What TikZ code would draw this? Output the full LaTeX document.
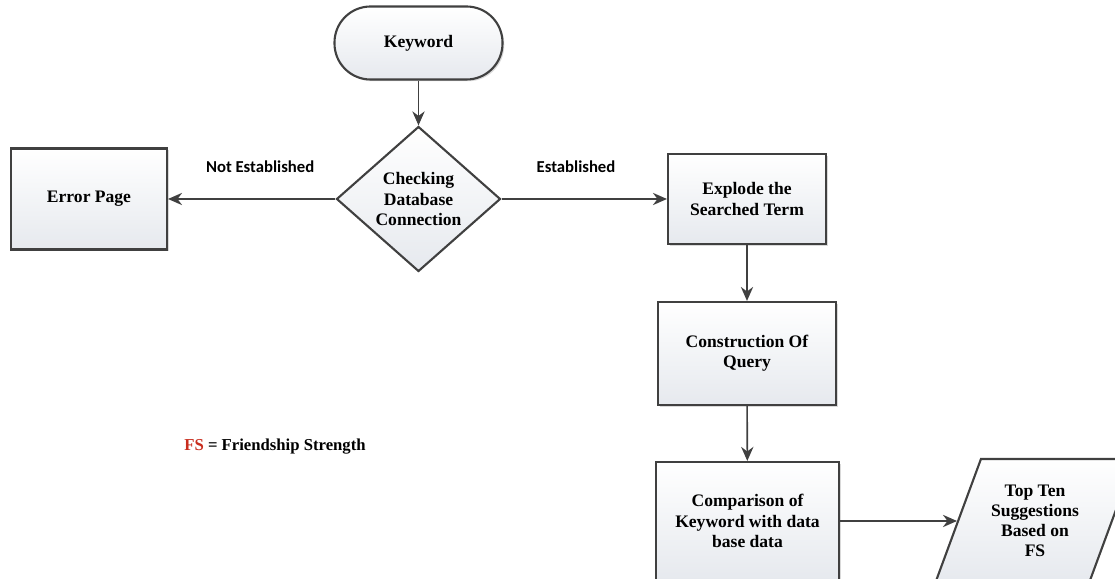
\documentclass[tikz,border=0pt]{standalone}
\usepackage{fontspec}
\setmainfont{Liberation Serif}
\newfontfamily\edgefont{Carlito}
\usetikzlibrary{arrows.meta,shapes.geometric,shadows}
\definecolor{linegray}{RGB}{64,64,64}
\definecolor{boxshade}{RGB}{230,233,238}
\definecolor{fsred}{RGB}{200,45,30}
\begin{document}
\begin{tikzpicture}[>={Stealth[length=8pt,width=7pt]},
	flowline/.style={draw=linegray,line width=0.9pt},
	shapeline/.style={draw=linegray,line width=1.2pt,top color=white,bottom color=boxshade,
		font=\fontsize{10}{11.5}\selectfont\bfseries,align=center},
	boxshadow/.style={drop shadow={shadow xshift=1pt,shadow yshift=-1pt,opacity=0.3}},
	process/.style={shapeline,boxshadow,rectangle,inner sep=2pt},
	terminal/.style={shapeline,boxshadow,rectangle,rounded corners=0.72cm,minimum width=3.36cm,minimum height=1.46cm},
	decision/.style={shapeline,diamond,inner sep=0pt,minimum width=3.28cm,minimum height=2.9cm},
	output/.style={shapeline,trapezium,trapezium left angle=63,trapezium right angle=117,
		trapezium stretches=true,minimum width=4cm,minimum height=2.48cm,inner sep=1pt},
	edgelabel/.style={font=\edgefont\fontsize{9.5}{11}\selectfont\bfseries,text=black}]
				\useasboundingbox (0,0) rectangle (22.3,11.58);
				%start
				\node[terminal] (kw) at (8.37,10.72) {Keyword};
				%check
				\node[decision] (chk) at (8.37,7.6) {Checking\\Database\\Connection};
				%%left
				\node[process,minimum width=3.12cm,minimum height=2.02cm] (err) at (1.78,7.6) {Error Page};
				%%right
				\node[process,minimum width=3.16cm,minimum height=1.8cm] (expl) at (14.94,7.6) {Explode the\\Searched Term};
				\node[process,minimum width=3.56cm,minimum height=2.06cm] (qry) at (14.94,4.51) {Construction Of\\Query};
				\node[process,minimum width=3.66cm,minimum height=2.36cm] (cmp) at (14.95,1.16) {Comparison of\\Keyword with data\\base data};
				%result
				\node[output] (top) at (20.7,1.16) {Top Ten\\Suggestions\\Based on\\FS};
				%legend
				\node[font=\fontsize{9.5}{11}\selectfont\bfseries] (fs) at (5.5,2.64) {\textcolor{fsred}{FS} = Friendship Strength};
				%connectors
				\draw[flowline,->] (kw) -- (chk);
				\draw[flowline,->] (chk) -- (err) node[edgelabel,pos=0.45,yshift=0.64cm] {Not Established};
				\draw[flowline,->] (chk) -- (expl) node[edgelabel,pos=0.45,yshift=0.64cm] {Established};
				\draw[flowline,->] (expl) -- (qry);
				\draw[flowline,->] (qry) -- (cmp);
				\draw[flowline,->] (cmp) -- (top);
\end{tikzpicture}
\end{document}
